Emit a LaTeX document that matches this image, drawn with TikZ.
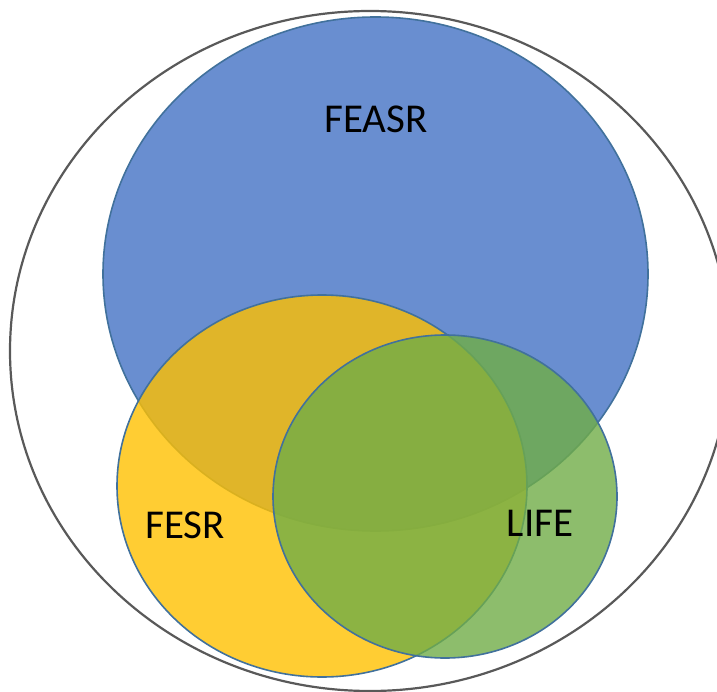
\documentclass[tikz,border=0pt]{standalone}
\usepackage{fontspec}
\setmainfont{Carlito}
\usetikzlibrary{shapes.geometric}
\definecolor{feasrblue}{HTML}{4472C4}
\definecolor{fesrgold}{HTML}{FFC000}
\definecolor{lifegreen}{HTML}{70AD47}
\definecolor{rim}{HTML}{41719C}
\begin{document}
\begin{tikzpicture}[x=1pt,y=-1pt,
    set/.style={ellipse,draw=rim,line width=1.6pt,fill opacity=.8,inner sep=0pt},
    lbl/.style={font=\fontsize{41}{49}\selectfont}]
\useasboundingbox (0,0) rectangle (717,692);
\node[ellipse,draw=black!65,line width=2.2pt,minimum width=720pt,minimum height=680pt] (all) at (370,351) {};
\node[set,fill=feasrblue,minimum width=545pt,minimum height=514pt] (feasr) at (375.5,274) {};
\node[set,fill=fesrgold,minimum width=410pt,minimum height=382pt] (fesr) at (322,486) {};
\node[set,fill=lifegreen,minimum width=344pt,minimum height=323pt] (life) at (445,496.5) {};
\node[lbl] (feasrlbl) at (376,119) {FEASR};
\node[lbl] (fesrlbl) at (185,525) {FESR};
\node[lbl] (lifelbl) at (540,523) {LIFE};
\end{tikzpicture}
\end{document}
